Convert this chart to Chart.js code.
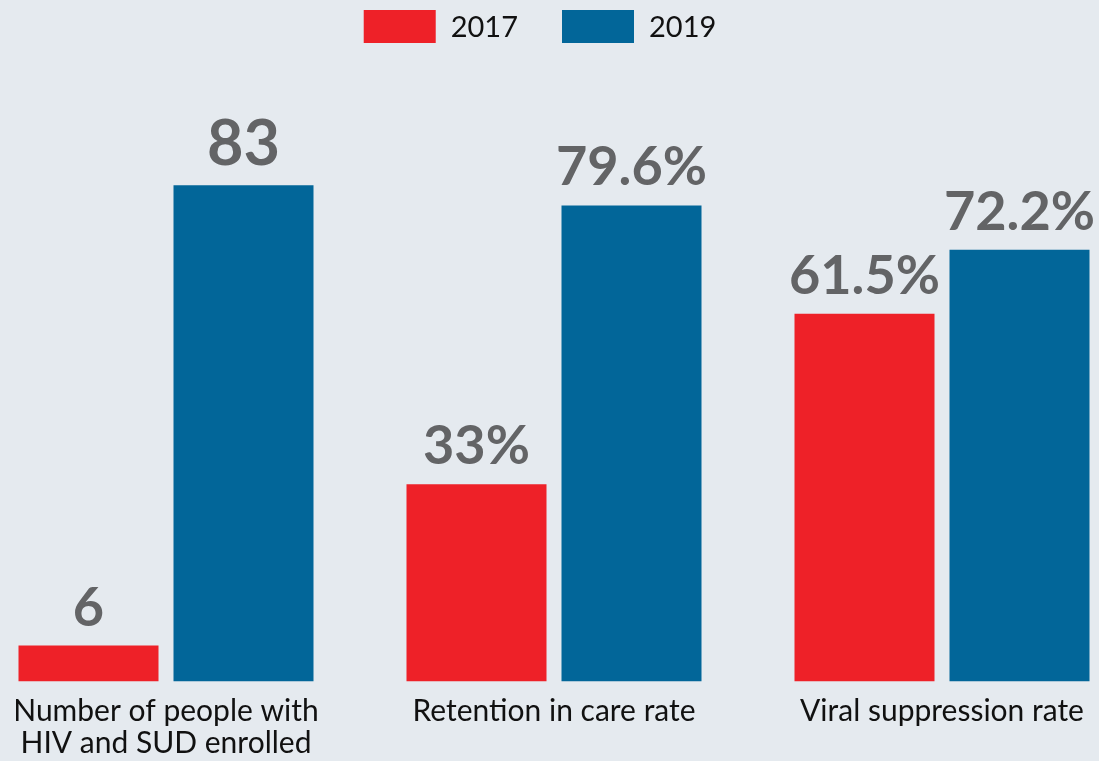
<!DOCTYPE html>
<html><head><meta charset="utf-8">
<script src="https://cdn.jsdelivr.net/npm/chart.js@4"></script>
<style>
html,body{margin:0;padding:0;background:#e5eaef;width:1099px;height:761px;overflow:hidden;}
#wrap{position:relative;width:1099px;height:761px;overflow:hidden;background:#e5eaef;}
#c{position:absolute;left:-28px;top:0;}
</style></head><body>
<div id="wrap"><canvas id="c" width="1164" height="761"></canvas></div>
<script>
// ---- data ----
const categories = [['Number of people with', 'HIV and SUD enrolled'], 'Retention in care rate', 'Viral suppression rate'];
const seriesNames = ['2017', '2019'];
const values2017 = [6, 33, 61.5];
const values2019 = [83, 79.6, 72.2];
const valueUnits = ['', '%', '%'];
const yRange = [0, 100];

// ---- plugins ----
const topLegend = {
  id: 'topLegend',
  afterDraw(chart, args, opts) {
    const ctx = chart.ctx;
    ctx.save();
    ctx.font = opts.font;
    const items = chart.data.datasets.map(d => ({ text: d.label, color: d.backgroundColor, w: ctx.measureText(d.label).width }));
    const total = items.reduce((s, it) => s + opts.boxWidth + opts.textGap + it.w, 0) + opts.itemGap * (items.length - 1);
    let x = opts.centerX - total / 2;
    items.forEach(it => {
      ctx.fillStyle = it.color;
      ctx.fillRect(x, opts.top, opts.boxWidth, opts.boxHeight);
      ctx.fillStyle = opts.color;
      ctx.textAlign = 'left';
      ctx.textBaseline = 'alphabetic';
      ctx.fillText(it.text, x + opts.boxWidth + opts.textGap, opts.textBaseline);
      x += opts.boxWidth + opts.textGap + it.w + opts.itemGap;
    });
    ctx.restore();
  }
};

const valueLabels = {
  id: 'valueLabels',
  afterDatasetsDraw(chart, args, opts) {
    const ctx = chart.ctx;
    ctx.save();
    ctx.fillStyle = opts.color;
    ctx.textAlign = 'center';
    ctx.textBaseline = 'alphabetic';
    chart.data.datasets.forEach((ds, di) => {
      chart.getDatasetMeta(di).data.forEach((bar, i) => {
        const size = (opts.sizes[di] && opts.sizes[di][i]) || opts.size;
        ctx.font = `${opts.weight} ${size}px ${opts.family}`;
        ctx.fillText(ds.data[i] + valueUnits[i], bar.x, bar.y - opts.offset);
      });
    });
    ctx.restore();
  }
};

new Chart(document.getElementById('c'), {
  type: 'bar',
  data: {
    labels: categories,
    datasets: [
      { label: seriesNames[0], data: values2017, backgroundColor: '#ee2128', borderWidth: 0 },
      { label: seriesNames[1], data: values2019, backgroundColor: '#026699', borderWidth: 0 }
    ]
  },
  options: {
    responsive: false,
    animation: false,
    events: [],
    categoryPercentage: 310 / 388,
    barPercentage: 140 / 155,
    layout: { padding: { top: 83.5, left: 0, right: 0, bottom: 0 } },
    scales: {
      x: {
        grid: { display: false, drawTicks: false },
        border: { display: false },
        ticks: { color: '#111111', font: { family: 'Lato', size: 30, lineHeight: 1.07 }, padding: 14, maxRotation: 0, autoSkip: false },
        afterFit(s) { s.height = 79.5; }
      },
      y: { display: false, min: yRange[0], max: yRange[1] }
    },
    plugins: {
      legend: { display: false },
      tooltip: { enabled: false },
      topLegend: { font: '29px Lato', color: '#111111', boxWidth: 72, boxHeight: 33, textGap: 15, itemGap: 44, centerX: 568, top: 10, textBaseline: 37 },
      valueLabels: { color: '#636466', weight: 700, family: 'Lato', size: 54, sizes: [[], [63]], offset: 20 }
    }
  },
  plugins: [topLegend, valueLabels]
});
</script>
</body></html>
